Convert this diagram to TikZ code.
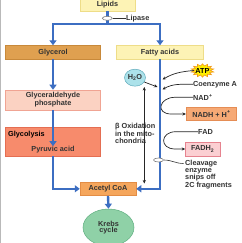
\documentclass[tikz,border=0pt]{standalone}
\usepackage{fontspec}
\setmainfont{Liberation Sans}
\usetikzlibrary{arrows.meta,shapes.geometric,calc}
\definecolor{lipfill}{HTML}{FDF3B5}
\definecolor{lipdraw}{HTML}{EEDD88}
\definecolor{glyfill}{HTML}{DFA050}
\definecolor{glydraw}{HTML}{C8893A}
\definecolor{gapfill}{HTML}{FBD2C2}
\definecolor{gapdraw}{HTML}{F0A493}
\definecolor{glycfill}{HTML}{F78B6C}
\definecolor{glycdraw}{HTML}{E46E52}
\definecolor{acfill}{HTML}{F5A65C}
\definecolor{acdraw}{HTML}{E38D45}
\definecolor{krebsfill}{HTML}{8FD1A7}
\definecolor{krebsdraw}{HTML}{5FAE80}
\definecolor{h2ofill}{HTML}{ACE2EA}
\definecolor{h2odraw}{HTML}{5FAABB}
\definecolor{atpfill}{HTML}{FFF000}
\definecolor{atpdraw}{HTML}{F29A1F}
\definecolor{nadhfill}{HTML}{F6A975}
\definecolor{nadhdraw}{HTML}{E58D55}
\definecolor{fadhfill}{HTML}{FBCFD2}
\definecolor{fadhdraw}{HTML}{E6838F}
\definecolor{txtgray}{HTML}{333333}
\definecolor{flowblue}{HTML}{3C6EC2}
\begin{document}
\begin{tikzpicture}[x=1pt,y=-1pt,
  every node/.style={font=\bfseries\fontsize{7.3}{6.7}\selectfont, text=txtgray, inner sep=0pt},
  box/.style={draw, line width=0.5pt, align=center},
  flow/.style={draw=flowblue, line width=2.4pt, -{Triangle[length=5pt,width=7pt]}},
  flowtwo/.style={draw=flowblue, line width=2.4pt, {Triangle[length=5pt,width=7pt]}-{Triangle[length=5pt,width=7pt]}},
  blk/.style={draw=black!85, line width=0.7pt, -{Stealth[length=3.5pt,width=3.2pt]}},
  blktwo/.style={draw=black!85, line width=0.7pt, {Stealth[length=3.5pt,width=3.2pt]}-{Stealth[length=3.5pt,width=3.2pt]}},
  lead/.style={draw=black!80, line width=0.6pt},
  enz/.style={ellipse, draw=gray, line width=0.6pt, fill=white, minimum width=10pt, minimum height=4pt}
]
\useasboundingbox (0,0) rectangle (241,243);
\fill[white] (0,0) rectangle (241,243);
\fill[gray!55] (0,0) rectangle (1.2,243);

% boxes
\node[box, fill=lipfill, draw=lipdraw, minimum width=55pt, minimum height=13pt] (lipids) at (107.5,4.5) {Lipids};
\node[box, fill=glyfill, draw=glydraw, minimum width=95pt, minimum height=13.5pt] (glycerol) at (53,52.3) {Glycerol};
\node[box, fill=lipfill, draw=lipdraw, minimum width=87pt, minimum height=13.5pt] (fatty) at (160,52.3) {Fatty acids};
\node[box, fill=gapfill, draw=gapdraw, minimum width=95pt, minimum height=20pt] (glyald) at (53,100) {Glyceraldehyde\\phosphate};
\node[box, fill=glycfill, draw=glycdraw, minimum width=95pt, minimum height=29pt] (glycolysis) at (53,141.5) {};
\node[anchor=west, text=black] (glyctxt) at (8,134.5) {Glycolysis};
\node (pyruvic) at (53,149.8) {Pyruvic acid};
\node[box, fill=acfill, draw=acdraw, minimum width=56pt, minimum height=13.5pt] (acetyl) at (108,188.8) {Acetyl CoA};
\node[ellipse, draw=krebsdraw, fill=krebsfill, line width=0.5pt, minimum width=51pt, minimum height=37pt, align=center] (krebs) at (108.5,227.5) {Krebs\\cycle};
\node[box, fill=nadhfill, draw=nadhdraw, minimum width=50.5pt, minimum height=13.4pt] (nadh) at (211.4,114) {NADH + H\textsuperscript{+}};
\node[box, fill=fadhfill, draw=fadhdraw, minimum width=34.5pt, minimum height=14pt] (fadh) at (202.7,149) {FADH\textsubscript{2}};
\node[ellipse, draw=h2odraw, fill=h2ofill, line width=0.5pt, minimum width=21pt, minimum height=17pt] (h2o) at (135,77.7) {H\textsubscript{2}O};
\begin{scope}[shift={(202.5,70.5)}, xscale=1.7]
\node[star, star points=14, star point ratio=1.45, minimum size=13.5pt, draw=atpdraw, fill=atpfill, line width=0.6pt, transform shape] (atpstar) {};
\end{scope}
\node[text=black] (atp) at (202.5,70.5) {ATP};

% labels
\node[anchor=west] (lipase) at (126,18.3) {Lipase};
\node[anchor=west] (coa) at (193,84.3) {Coenzyme A};
\node[anchor=west] (nad) at (193,97.3) {NAD\textsuperscript{+}};
\node[anchor=west] (fad) at (198,131.7) {FAD};
\node[anchor=north west, align=left] (cleavtxt) at (185,160) {Cleavage\\enzyme\\snips off\\2C fragments};
\node[anchor=north west, align=left] (beta) at (115,123.5) {β Oxidation\\in the mito-\\chondria};

% coordinates
\coordinate (split) at (107.5,24);
\coordinate (oxtop) at (144.3,87);
\coordinate (oxbot) at (144.3,183.5);
\coordinate (th2o) at (157.5,87);
\coordinate (tatp) at (162.5,79.5);
\coordinate (tcoa) at (162.5,89.5);
\coordinate (clend) at (183.5,163.5);

% blue flow
\draw[flowtwo] (glycerol.north) |- (split) -| (fatty.north);
\draw[flowblue, line width=2.4pt] (lipids.south) -- (split);
\draw[flow] (glycerol.south) -- (glyald.north);
\draw[flow] (glyald.south) -- (pyruvic.north);
\draw[flow] (glycolysis.south) |- (acetyl.west);
\draw[flow] (fatty.south) |- (acetyl.east);
\draw[flow] (acetyl.south) -- (krebs.north);

% enzymes
\node[enz] (lipenz) at (107.3,18.3) {};
\node[enz] (cleavenz) at (158.5,160) {};
\draw[lead] (lipenz.east) -- (lipase.west);
\draw[lead] (cleavenz.east) to[out=0,in=180] (clend);

% black arrows
\draw[blktwo] (oxbot) -- (oxtop);
\draw[blk] (h2o.-25) -- (th2o);
\draw[blk] (atpstar.west) to[out=185,in=30] (tatp);
\draw[blk] (coa.west) to[out=180,in=30] (tcoa);
\draw[blk] (nad.west) -- ++(-18,0) .. controls +(-16,0) and +(-16,0) .. ($(nadh.west)+(-14.7,0)$) -- (nadh.west);
\draw[blk] (fad.west) -- ++(-22,0) .. controls +(-16,0) and +(-16,0) .. ($(fadh.west)+(-10,0)$) -- (fadh.west);
\end{tikzpicture}
\end{document}
